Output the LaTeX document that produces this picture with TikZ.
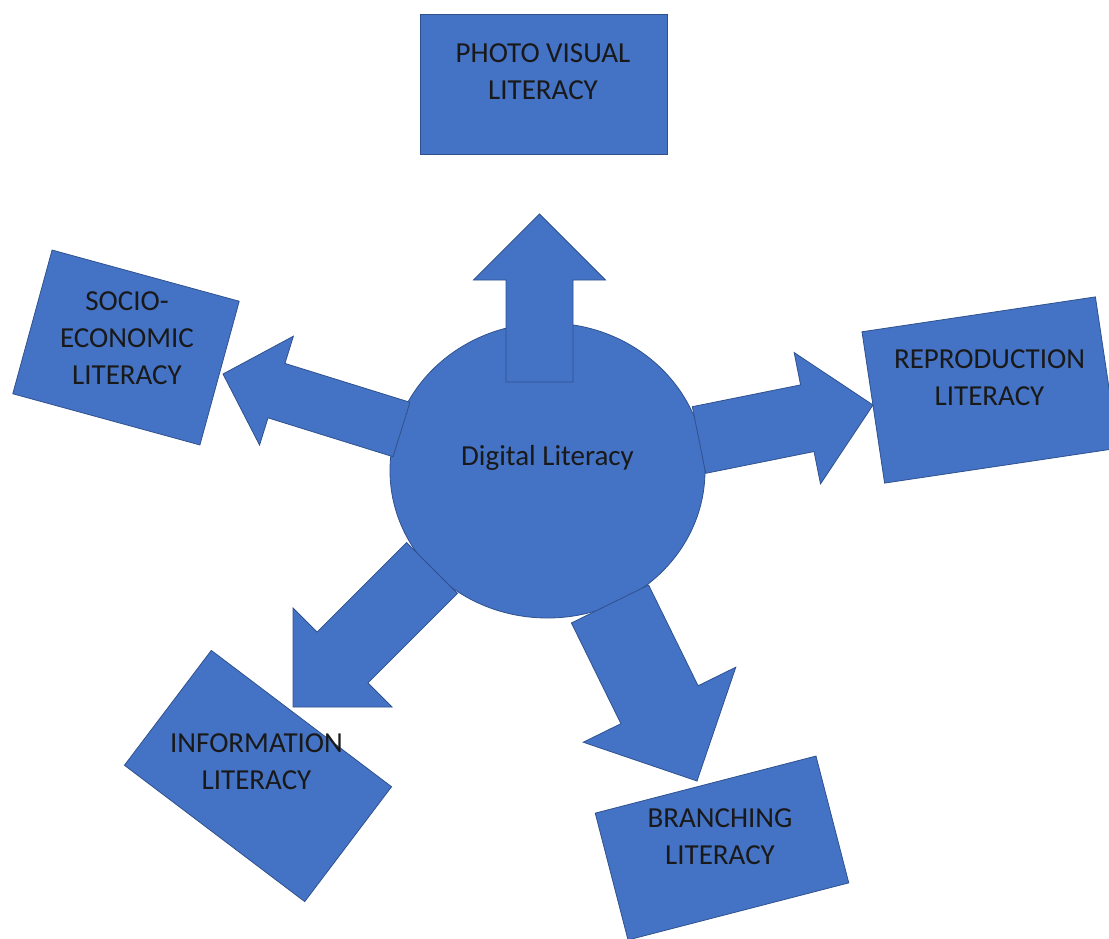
\documentclass[tikz,border=0pt]{standalone}
\usepackage{fontspec}
\setmainfont{Carlito}
\usetikzlibrary{calc,shapes.geometric}
\definecolor{officeblue}{HTML}{4472C4}
\definecolor{officeline}{HTML}{2F528F}
\tikzset{
  litbox/.style={draw=officeline, fill=officeblue, line width=0.8pt, inner sep=0pt},
  hub/.style={draw=officeline, fill=officeblue, line width=0.8pt, ellipse, inner sep=0pt},
  littext/.style={align=center, inner sep=0pt, font=\fontsize{29}{37}\selectfont, text=black!90},
  blockarr/.style={draw=officeline, fill=officeblue, line width=0.8pt, line join=miter},
}
% #1 base coordinate, #2 tip coordinate, #3 shaft half width, #4 head half width, #5 head length
\newcommand\blockarrow[5]{%
  \coordinate (#1-h) at ($(#2)!#5!(#1)$);
  \draw[blockarr] ($(#1)!#3!90:(#2)$) -- ($(#1-h)!#3!90:(#2)$) -- ($(#1-h)!#4!90:(#2)$)
    -- (#2) -- ($(#1-h)!#4!-90:(#2)$) -- ($(#1-h)!#3!-90:(#2)$) -- ($(#1)!#3!-90:(#2)$) -- cycle;
}
\begin{document}
\begin{tikzpicture}[x=1pt,y=-1pt]
\clip (0,0) rectangle (1109,939);
\fill[white] (0,0) rectangle (1109,939);

% boxes
\node[litbox, minimum width=247, minimum height=140] (photo) at (543.5,84) {};
\node[litbox, minimum width=194, minimum height=149, rotate=-15.3] (socio) at (126,347.5) {};
\node[litbox, minimum width=236, minimum height=153, rotate=8.5] (repro) at (990,390) {};
\node[litbox, minimum width=226, minimum height=144, rotate=-37.1] (info) at (258,776) {};
\node[litbox, minimum width=228, minimum height=131, rotate=14.5] (branch) at (722,848) {};

% hub
\node[hub, minimum width=315, minimum height=295] (hub) at (547.5,470.5) {};

% arrow bases and tips
\coordinate (upB) at (539.5,382);   \coordinate (upT) at (539.5,214);
\coordinate (lfB) at (401.5,429.5); \coordinate (lfT) at (223,374);
\coordinate (rtB) at (699,440);     \coordinate (rtT) at (873,405);
\coordinate (inB) at (432,568);     \coordinate (inT) at (293,707);
\coordinate (brB) at (610,604);     \coordinate (brT) at (697,781);

\blockarrow{upB}{upT}{33.5pt}{66pt}{66pt}
\blockarrow{lfB}{lfT}{28.5pt}{57pt}{56pt}
\blockarrow{rtB}{rtT}{34pt}{67pt}{67pt}
\blockarrow{inB}{inT}{36pt}{70pt}{70pt}
\blockarrow{brB}{brT}{43pt}{85pt}{85pt}

% texts
\node[littext, anchor=base] (hubt) at (547.5,465) {Digital Literacy};
\node[littext] (photot) at (543,72) {PHOTO VISUAL\\LITERACY};
\node[littext] (sociot) at (127,338.5) {SOCIO-\\ECONOMIC\\LITERACY};
\node[littext] (reprot) at (989.5,378) {REPRODUCTION\\LITERACY};
\node[littext] (infot) at (256.5,761.5) {INFORMATION\\LITERACY};
\node[littext] (brancht) at (720,837) {BRANCHING\\LITERACY};
\end{tikzpicture}
\end{document}
